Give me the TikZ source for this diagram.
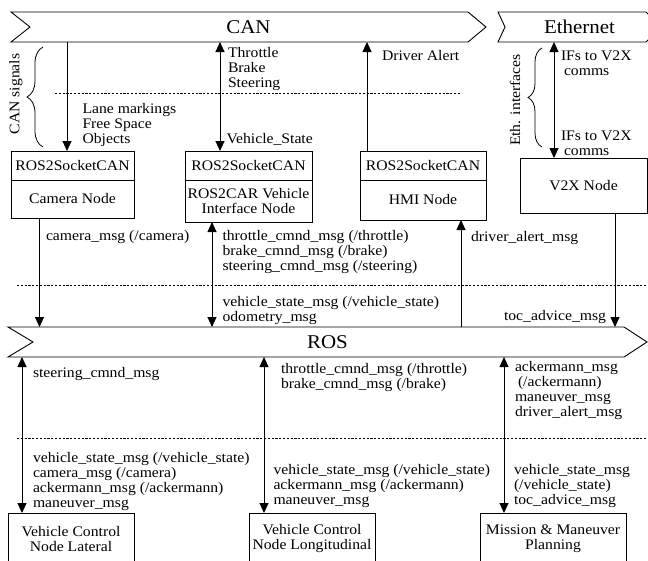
\documentclass[tikz,border=0pt]{standalone}
\usepackage{fontspec}
\setmainfont{Liberation Serif}[FakeStretch=1.075]
\usetikzlibrary{arrows.meta,decorations.pathreplacing}
\newcommand\lblfont{\fontsize{14.6pt}{15pt}\selectfont}
\newcommand\barfont{\fontsize{19.5pt}{20pt}\selectfont}
\newcommand\st{\rule{0pt}{11pt}}
\begin{document}
\begin{tikzpicture}[x=1pt,y=-1pt, line width=0.9pt,
  every node/.style={outer sep=0pt},
  box/.style={draw, inner sep=1pt, align=center, font=\lblfont, anchor=north west},
  bar/.style={inner sep=0pt, font=\barfont, minimum height=30pt},
  lbl/.style={inner sep=0pt, anchor=north west, align=left, font=\lblfont},
  rot/.style={inner sep=0pt, rotate=90, font=\lblfont},
  arr/.style={-{Triangle[length=10pt,width=9pt]}},
  darr/.style={{Triangle[length=10pt,width=9pt]}-{Triangle[length=10pt,width=9pt]}},
  sep/.style={line width=0.7pt, dash pattern=on 2.2pt off 1.6pt},
  brc/.style={decorate, decoration={brace, amplitude=#1}, line width=0.8pt}
]
\useasboundingbox (0,0) rectangle (648,560);

% bars
\node[bar, minimum width=475pt] (can) at (248.5,27) {CAN};
\draw (can.north west) -- ([xshift=-18pt]can.north east) -- (can.east) -- ([xshift=-18pt]can.south east) -- (can.south west) -- ([xshift=19pt]can.west) -- cycle;
\node[bar, minimum width=163pt] (eth) at (579.5,27) {Ethernet};
\draw (eth.north west) -- ([xshift=-15pt]eth.north east) -- (eth.east) -- ([xshift=-15pt]eth.south east) -- (eth.south west) -- ([xshift=7pt]eth.west) -- cycle;
\node[bar, minimum width=639pt] (ros) at (327.5,342) {ROS};
\draw (ros.north west) -- ([xshift=-23pt]ros.north east) -- (ros.east) -- ([xshift=-23pt]ros.south east) -- (ros.south west) -- ([xshift=25pt]ros.west) -- cycle;

% boxes
\node[box, minimum width=123pt, minimum height=29pt] (camS) at (11,151) {ROS2SocketCAN};
\node[box, minimum width=123pt, minimum height=38pt] (cam) at (11,180) {Camera Node};
\node[box, minimum width=127pt, minimum height=29pt] (vehS) at (185,151) {ROS2SocketCAN};
\node[box, minimum width=127pt, minimum height=42pt] (veh) at (185,180) {ROS2CAR Vehicle\\Interface Node};
\node[box, minimum width=126pt, minimum height=29pt] (hmiS) at (360,151) {ROS2SocketCAN};
\node[box, minimum width=126pt, minimum height=40pt] (hmi) at (360,180) {HMI Node};
\node[box, minimum width=127pt, minimum height=55pt] (v2x) at (520,158) {V2X Node};
\node[box, minimum width=126pt, minimum height=52pt] (lat) at (8,513) {Vehicle Control\\Node Lateral};
\node[box, minimum width=126pt, minimum height=52pt] (lon) at (249,513) {Vehicle Control\\Node Longitudinal};
\node[box, minimum width=146pt, minimum height=52pt] (mis) at (480,513) {Mission \& Maneuver\\Planning};

% arrow x positions
\coordinate (xcamT) at (67,0);
\coordinate (xvehT) at (220,0);
\coordinate (xhmiT) at (367,0);
\coordinate (xethT) at (554,0);
\coordinate (xcamM) at (39.5,0);
\coordinate (xvehM) at (212,0);
\coordinate (xhmiM) at (461,0);
\coordinate (xv2xM) at (615,0);
\coordinate (xlat) at (22,0);
\coordinate (xlon) at (264,0);
\coordinate (xmis) at (504,0);

% connectors
\draw[arr] (can.south -| xcamT) -- (camS.north -| xcamT);
\draw[darr] (can.south -| xvehT) -- (vehS.north -| xvehT);
\draw[arr] (hmiS.north -| xhmiT) -- (can.south -| xhmiT);
\draw[darr] (eth.south -| xethT) -- (v2x.north -| xethT);
\draw[arr] (cam.south -| xcamM) -- (ros.north -| xcamM);
\draw[darr] (veh.south -| xvehM) -- (ros.north -| xvehM);
\draw[arr] (ros.north -| xhmiM) -- (hmi.south -| xhmiM);
\draw[arr] (v2x.south -| xv2xM) -- (ros.north -| xv2xM);
\draw[darr] (ros.south -| xlat) -- (lat.north -| xlat);
\draw[darr] (ros.south -| xlon) -- (lon.north -| xlon);
\draw[darr] (ros.south -| xmis) -- (mis.north -| xmis);

% separators
\draw[sep] (55,93) -- (461,93);
\draw[sep] (17,285) -- (648,285);
\draw[sep] (17,438) -- (648,438);

% braces
\draw[brc=16pt] (43,147) -- (43,47);
\draw[brc=14pt] (542,147) -- (542,48);
\node[rot] (cansig) at (16,94) {CAN signals};
\node[rot] (ethif) at (515,100) {Eth. interfaces};

% labels
\node[lbl] (l1) at (228,46) {\st Throttle\\Brake\\Steering};
\node[lbl] (l2) at (82.5,102) {\st Lane markings\\Free Space\\Objects};
\node[lbl] (l3) at (226.5,132.5) {\st Vehicle\_State};
\node[lbl] (l4) at (382,49) {\st Driver Alert};
\node[lbl] (l5) at (561,49) {\st IFs to V2X\\\hspace*{3pt}comms};
\node[lbl] (l6) at (561,129) {\st IFs to V2X\\\hspace*{3pt}comms};
\node[lbl] (l7) at (46,229) {\st camera\_msg (/camera)};
\node[lbl] (l8) at (222.5,229) {\st throttle\_cmnd\_msg (/throttle)\\brake\_cmnd\_msg (/brake)\\steering\_cmnd\_msg (/steering)};
\node[lbl] (l9) at (471,230.5) {\st driver\_alert\_msg};
\node[lbl] (l10) at (222.5,295) {\st vehicle\_state\_msg (/vehicle\_state)\\odometry\_msg};
\node[lbl, anchor=north east] (l11) at (606,309) {\st toc\_advice\_msg};
\node[lbl] (l12) at (33,366) {\st steering\_cmnd\_msg};
\node[lbl] (l13) at (281,362.5) {\st throttle\_cmnd\_msg (/throttle)\\brake\_cmnd\_msg (/brake)};
\node[lbl] (l14) at (515,360.5) {\st ackermann\_msg\\\hspace*{3pt}(/ackermann)\\maneuver\_msg\\driver\_alert\_msg};
\node[lbl] (l15) at (33,451) {\st vehicle\_state\_msg (/vehicle\_state)\\camera\_msg (/camera)\\ackermann\_msg (/ackermann)\\maneuver\_msg};
\node[lbl] (l16) at (273.5,463) {\st vehicle\_state\_msg (/vehicle\_state)\\ackermann\_msg (/ackermann)\\maneuver\_msg};
\node[lbl] (l17) at (514,463) {\st vehicle\_state\_msg\\(/vehicle\_state)\\toc\_advice\_msg};
\end{tikzpicture}
\end{document}
